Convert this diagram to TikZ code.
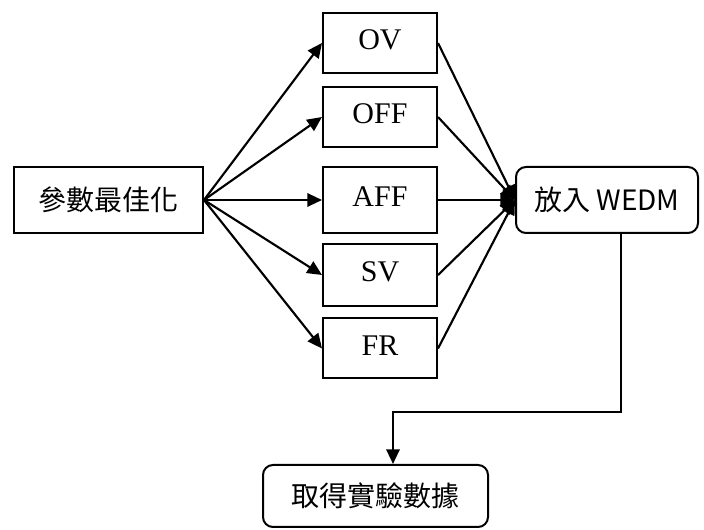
\documentclass[tikz,border=0pt]{standalone}
\usepackage{fontspec}
\setmainfont{Liberation Serif}
\newfontfamily\cjk{Noto Sans CJK TC}
\usetikzlibrary{positioning,arrows.meta,calc}

\begin{document}
\begin{tikzpicture}[x=0.75pt, y=-0.75pt,
  font=\fontsize{22.5pt}{26pt}\selectfont,
  box/.style={draw, line width=1.5pt, align=center, inner sep=2pt,
              minimum width=85.5pt, minimum height=45pt, text height=1em},
  cbox/.style={draw, line width=1.5pt, align=center, inner sep=2pt,
               font=\fontsize{21pt}{25pt}\selectfont\cjk},
  rbox/.style={cbox, rounded corners=7.5pt},
  flow/.style={-{Triangle[length=11pt, width=10pt]}, line width=1.6pt}]
\useasboundingbox (0,0) rectangle (704,530);
\node[cbox, minimum width=141.75pt, minimum height=49.5pt] (param) at (108.5,200) {參數最佳化};
\node[box] (ov) at (380,43) {OV};
\node[box] (off) at (380,117) {OFF};
\node[box, minimum height=49.5pt] (aff) at (380,200) {AFF};
\node[box, minimum height=46.5pt] (sv) at (380,275) {SV};
\node[box] (fr) at (380,348.5) {FR};
\node[rbox, minimum width=136.5pt, minimum height=49.5pt] (wedm) at (607,200) {放入 WEDM};
\node[rbox, minimum width=168.75pt, minimum height=46.5pt] (res) at (375.5,496) {取得實驗數據};
\foreach \m in {ov,off,aff,sv,fr}{
  \draw[flow] (param.east) -- (\m.west);
  \draw[flow] (\m.east) -- (wedm.west);
}
\coordinate (bend) at (393,412);
\draw[flow] ([xshift=10.5pt]wedm.south) |- (bend) -- (bend |- res.north);
\end{tikzpicture}
\end{document}
